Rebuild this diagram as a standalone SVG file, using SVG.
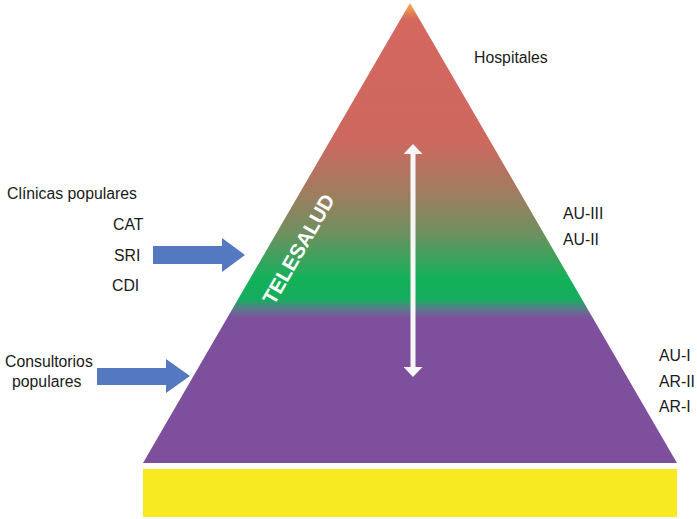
<svg xmlns="http://www.w3.org/2000/svg" width="697" height="519" viewBox="0 0 697 519">
<defs>
<linearGradient id="pg" gradientUnits="userSpaceOnUse" x1="0" y1="3" x2="0" y2="463">
<stop offset="0" stop-color="#f6ac48"/>
<stop offset="0.035" stop-color="#d5675f"/>
<stop offset="0.3" stop-color="#cd685f"/>
<stop offset="0.4" stop-color="#a67a5f"/>
<stop offset="0.5" stop-color="#6f905f"/>
<stop offset="0.6" stop-color="#13b15a"/>
<stop offset="0.645" stop-color="#17ac5e"/>
<stop offset="0.665" stop-color="#5a7a8a"/>
<stop offset="0.685" stop-color="#7e4f9d"/>
<stop offset="1" stop-color="#7e4f9d"/>
</linearGradient>
<marker id="wh" viewBox="0 0 10 19" refX="2" refY="9.5" markerWidth="10" markerHeight="19" markerUnits="userSpaceOnUse" orient="auto-start-reverse">
<path d="M0,0 L10,9.5 L0,19 z" fill="#f7f7f7"/>
</marker>
</defs>
<style>
text{font-family:"Liberation Sans",Arial,sans-serif;font-size:15.8px;fill:#1a1a1a}
.ba{fill:#5479c0}
</style>
<g id="pyramid">
<polygon points="410,3 677,463 143,463" fill="url(#pg)"/>
</g>
<g id="base">
<rect x="143" y="469" width="534" height="48" fill="#f7ea20"/>
</g>
<g id="telesalud">
<text x="0" y="0" transform="translate(300,250) rotate(-60)" text-anchor="middle" dominant-baseline="middle" style="font-weight:bold;font-size:20.5px;fill:#ffffff">TELESALUD</text>
</g>
<g id="connectors">
<line x1="413" y1="152" x2="413" y2="369" stroke="#f7f7f7" stroke-width="5" marker-start="url(#wh)" marker-end="url(#wh)"/>
<polygon class="ba" points="153,246 222,246 222,238 245,255 222,272 222,264 153,264"/>
<polygon class="ba" points="97,368 166,368 166,359 190,376 166,393 166,385 97,385"/>
</g>
<g id="labels-left">
<text x="7" y="199">Clínicas populares</text>
<text x="113" y="230">CAT</text>
<text x="114" y="261">SRI</text>
<text x="112" y="291">CDI</text>
<text x="5" y="367">Consultorios</text>
<text x="12" y="387">populares</text>
</g>
<g id="labels-right">
<text x="474" y="63">Hospitales</text>
<text x="563" y="219">AU-III</text>
<text x="563" y="245">AU-II</text>
<text x="659" y="361">AU-I</text>
<text x="659" y="387">AR-II</text>
<text x="659" y="412">AR-I</text>
</g>
</svg>
